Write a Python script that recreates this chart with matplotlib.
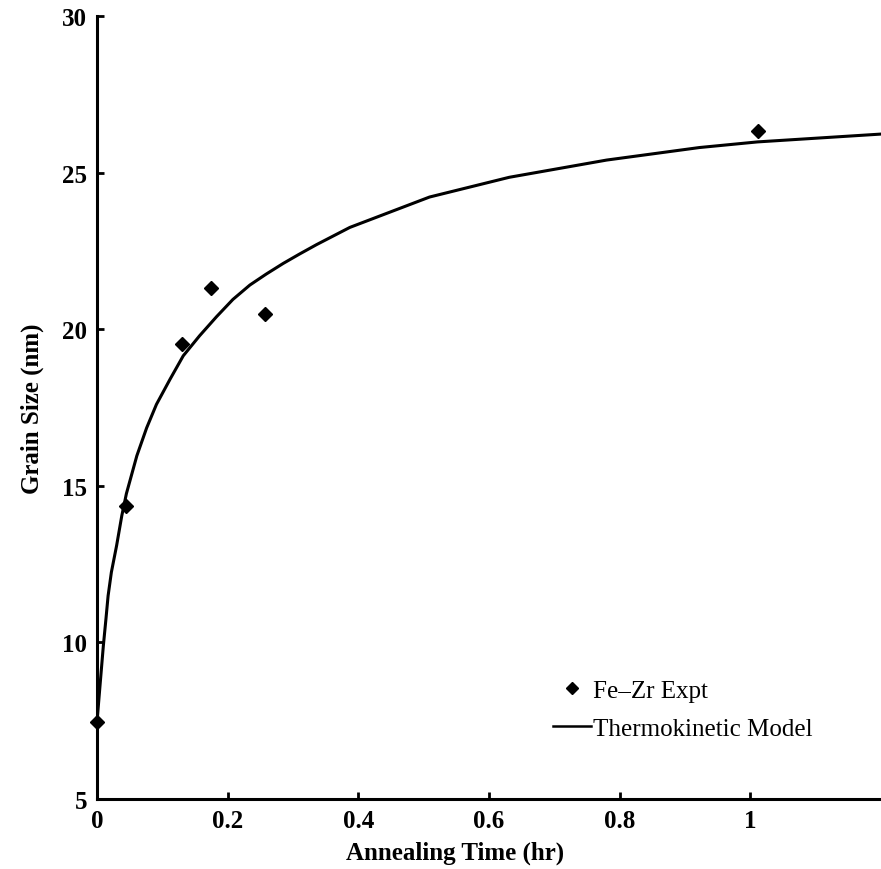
import matplotlib
matplotlib.use("Agg")
import matplotlib.pyplot as plt
from matplotlib.lines import Line2D

# Datos experimentales (Fe-Zr)
expt_time = [0.0, 0.045, 0.130, 0.174, 0.257, 1.011]
expt_size = [7.46, 14.36, 19.53, 21.31, 20.49, 26.33]

# Curva del modelo termocinetico
model_time = [0.0, 0.0046, 0.0097, 0.0137, 0.017, 0.022, 0.030, 0.038, 0.045,
              0.061, 0.076, 0.091, 0.112, 0.132, 0.157, 0.183, 0.208, 0.234,
              0.259, 0.285, 0.310, 0.336, 0.387, 0.509, 0.631, 0.78, 0.922,
              1.011, 1.2]
model_size = [7.46, 8.62, 9.89, 10.75, 11.49, 12.24, 13.09, 14.05, 14.75,
              15.96, 16.85, 17.60, 18.41, 19.15, 19.79, 20.40, 20.95, 21.41,
              21.76, 22.10, 22.40, 22.70, 23.25, 24.22, 24.85, 25.40, 25.80,
              25.98, 26.23]

xticks = [0, 0.2, 0.4, 0.6, 0.8, 1.0]
xtick_labels = ["0", "0.2", "0.4", "0.6", "0.8", "1"]
yticks = [5, 10, 15, 20, 25, 30]

plt.rcParams["font.family"] = ["Liberation Serif", "DejaVu Serif"]

fig = plt.figure(figsize=(8.81, 8.70), dpi=100)
ax = fig.add_axes([97 / 881, 70 / 870, 784 / 881, 783 / 870])

ax.plot(model_time, model_size, color="black", lw=2.2, clip_on=False,
        solid_joinstyle="round")
ax.plot(expt_time, expt_size, linestyle="none", marker="D", ms=7.2,
        color="black", clip_on=False, zorder=5)

ax.set_xlim(0, 1.2)
ax.set_ylim(5, 30)
ax.set_xticks(xticks)
ax.set_xticklabels(xtick_labels)
ax.set_yticks(yticks)

for s in ["top", "right"]:
    ax.spines[s].set_visible(False)
for s in ["left", "bottom"]:
    ax.spines[s].set_linewidth(2.2)

ax.tick_params(direction="in", length=5, width=2, pad=7, labelsize=18)
for lab in ax.get_xticklabels() + ax.get_yticklabels():
    lab.set_fontweight("bold")

ax.set_xlabel("Annealing Time (hr)", fontsize=18, fontweight="bold")
ax.set_ylabel("Grain Size (nm)", fontsize=18, fontweight="bold")
ax.xaxis.set_label_coords(0.457, -0.053)
ax.yaxis.set_label_coords(-0.068, 0.5)

handles = [
    Line2D([], [], linestyle="none", marker="D", ms=6.5, color="black"),
    Line2D([], [], color="black", lw=1.8),
]
ax.legend(handles, ["Fe\u2013Zr Expt", "Thermokinetic Model"],
          loc="upper left", bbox_to_anchor=(0.582, 0.153), frameon=False,
          fontsize=18, handlelength=1.5, handletextpad=0.1, borderpad=0,
          borderaxespad=0, labelspacing=0.62)

fig.savefig("out.png", dpi=100, facecolor="white")
